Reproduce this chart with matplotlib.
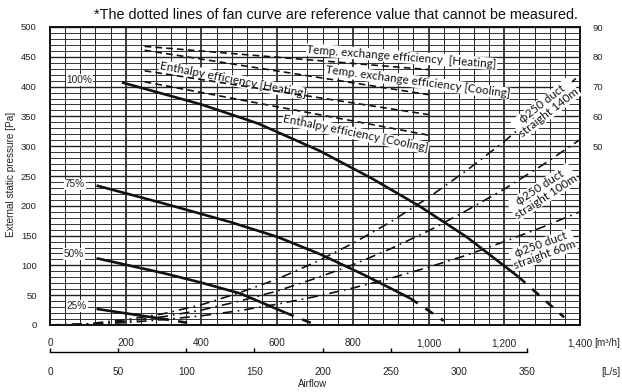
import matplotlib
matplotlib.use("Agg")
import matplotlib.pyplot as plt
import matplotlib.transforms as mtrans
from matplotlib.ticker import MultipleLocator

plt.rcParams['font.family'] = ['Liberation Sans', 'DejaVu Sans']

#---------------------------------------------------------------
# data: airflow [m3/h], static pressure [Pa]
#---------------------------------------------------------------
fan_labels = ['100%', '75%', '50%', '25%']
fan_q = [[190, 400, 550, 713, 850, 977, 1100, 1237],
         [123, 300, 475, 600, 713, 830, 951],
         [123, 300, 400, 502, 621],
         [123, 290]]
fan_p = [[407, 370, 338, 292, 246, 199, 148, 81],
         [234, 204, 173, 148, 119, 84, 45],
         [112, 87, 71, 53, 21],
         [27, 11]]
# reference part of fan curve (dotted in the chart)
fan_ref_q = [[1237, 1358], [951, 1040], [621, 695], [290, 370]]
fan_ref_p = [[81, 13], [45, 7], [21, 2], [11, 3]]
fan_label_pos = [(77, 411), (66, 236), (63, 119), (71, 32)]

# duct resistance curves
duct_q = [0, 100, 200, 300, 400, 500, 600, 700, 800, 900, 1000, 1100, 1200, 1300, 1400]
duct_140 = [0, 2, 9, 19, 34, 54, 77, 105, 137, 173, 214, 259, 308, 362, 420]
duct_100 = [0, 1.6, 6.3, 14, 25, 40, 57, 78, 101, 128, 158, 192, 228, 268, 311]
duct_60 = [0, 1, 4, 9, 15.5, 24, 35, 47.5, 62, 78.5, 97, 117, 140, 164, 190]
duct_labels = ['\u03d5250 duct\nstraight 140m', '\u03d5250 duct\nstraight 100m', '\u03d5250 duct\nstraight 60m']

# efficiency [%] on right axis
eff_q = [250, 1000]
eff_temp_heat = [83.5, 75.7]
eff_temp_cool = [82.2, 67.3]
eff_enth_heat = [75.3, 60.6]
eff_enth_cool = [71.6, 53.7]
eff_labels = ['Temp. exchange efficiency  [Heating]', 'Temp. exchange efficiency [Cooling]',
              'Enthalpy efficiency [Heating]', 'Enthalpy efficiency [Cooling]']

m3h_ticks = [0, 200, 400, 600, 800, 1000, 1200, 1400]
ls_ticks = [0, 50, 100, 150, 200, 250, 300, 350]

W, H = 622, 392
fig = plt.figure(figsize=(W / 100, H / 100), dpi=100)
x0, x1, y0, y1 = 50, 580, 27, 325
ax = fig.add_axes([x0 / W, 1 - y1 / H, (x1 - x0) / W, (y1 - y0) / H])
ax.set_xlim(0, 1400)
ax.set_ylim(0, 500)

# grid
ax.xaxis.set_major_locator(MultipleLocator(200))
ax.xaxis.set_minor_locator(MultipleLocator(40))
ax.yaxis.set_major_locator(MultipleLocator(50))
ax.yaxis.set_minor_locator(MultipleLocator(10))
ax.grid(which='minor', axis='x', color='#222222', lw=0.7)
ax.grid(which='major', axis='x', color='#111111', lw=1.15)
ax.grid(which='minor', axis='y', color='#333333', lw=0.7)
ax.grid(which='major', axis='y', color='#222222', lw=1.0)
ax.set_axisbelow(True)
ax.tick_params(axis='x', which='both', length=0, labelbottom=False)
ax.tick_params(axis='y', which='both', length=0, labelsize=6.8, pad=9.5, labelcolor='#222222')
for s in ax.spines.values():
    s.set_linewidth(1.4)
    s.set_color('#111111')

# efficiency axis
axr = ax.twinx()
axr.set_ylim(-10, 90)
axr.set_yticks([50, 60, 70, 80, 90])
axr.tick_params(axis='y', length=0, labelsize=6.8, pad=9, labelcolor='#222222')
for s in axr.spines.values():
    s.set_visible(False)

eff_sets = [eff_temp_heat, eff_temp_cool, eff_enth_heat, eff_enth_cool]
for e in eff_sets:
    axr.plot(eff_q, e, color='#111111', lw=1.2, ls=(0, (4, 2.5)), zorder=3)

lbl_font = dict(family=['Lato', 'DejaVu Sans'], fontsize=8.4, color='#111111',
                ha='center', va='center', rotation_mode='anchor',
                bbox=dict(facecolor='white', edgecolor='none', pad=0.5), zorder=6)
eff_label_pos = [(929, 450, -4.5), (971, 408, -7.5), (484, 411, -11), (808, 321, -11.5)]
for txt, (q, p, r) in zip(eff_labels, eff_label_pos):
    ax.text(q, p, txt, rotation=r, **lbl_font)

# duct curves
for d in [duct_140, duct_100, duct_60]:
    ax.plot(duct_q, d, color='#111111', lw=1.2, ls=(0, (6, 3, 1, 3)), zorder=3)
duct_label_pos = [(1310, 364, 38), (1302, 223, 33), (1302, 126, 20)]
for txt, (q, p, r) in zip(duct_labels, duct_label_pos):
    ax.text(q, p, txt, rotation=r, linespacing=1.0, multialignment='center', **lbl_font)

# fan curves
for q, p in zip(fan_q, fan_p):
    ax.plot(q, p, color='#111111', lw=1.9, solid_capstyle='butt', zorder=4)
for q, p in zip(fan_ref_q, fan_ref_p):
    ax.plot(q, p, color='#111111', lw=1.9, ls=(0, (3.5, 3.5)), zorder=4)
for txt, (q, p) in zip(fan_labels, fan_label_pos):
    ax.text(q, p, txt, fontsize=7.2, ha='center', va='center', color='#222222', zorder=6,
            bbox=dict(facecolor='white', edgecolor='none', pad=0.4))

# bottom airflow scale
axb = fig.add_axes([x0 / W, 1 - 351.7 / H, (x1 - x0) / W, 0.001])
axb.set_xlim(0, 1400 / 3.6)
axb.set_ylim(0, 1)
for k in ['top', 'left', 'right']:
    axb.spines[k].set_visible(False)
axb.spines['bottom'].set_bounds(0, 350)
axb.spines['bottom'].set_linewidth(1.0)
axb.set_xticks(ls_ticks)
axb.set_yticks([])
axb.tick_params(axis='x', direction='in', length=3, width=1.0, labelbottom=False)
axb.patch.set_visible(False)

tr = mtrans.blended_transform_factory(axb.transData, fig.transFigure)
for q in m3h_ticks:
    axb.text(q / 3.6, 1 - 343.5 / H, f'{q:,}', transform=tr, fontsize=7.2,
             ha='center', va='center', color='#222222')
for l in ls_ticks:
    axb.text(l, 1 - 372 / H, str(l), transform=tr, fontsize=7.2,
             ha='center', va='center', color='#222222')
fig.text(594 / W, 1 - 343.5 / H, '[m\u00b3/h]', fontsize=7.2, ha='left', va='center', color='#222222')
fig.text(611 / W, 1 - 372 / H, '[L/s]', fontsize=7.2, ha='center', va='center', color='#222222')
fig.text(313 / W, 1 - 384 / H, 'Airflow', fontsize=7, ha='center', va='center', color='#222222')
fig.text(11 / W, 1 - 174 / H, 'External static pressure [Pa]', fontsize=7.2, rotation=90,
         ha='center', va='center', color='#222222')
fig.text(578 / W, 1 - 15 / H,
         '*The dotted lines of fan curve are reference value that cannot be measured.',
         fontsize=10.4, ha='right', va='center', color='#111111')

fig.savefig('out.png', dpi=100)
